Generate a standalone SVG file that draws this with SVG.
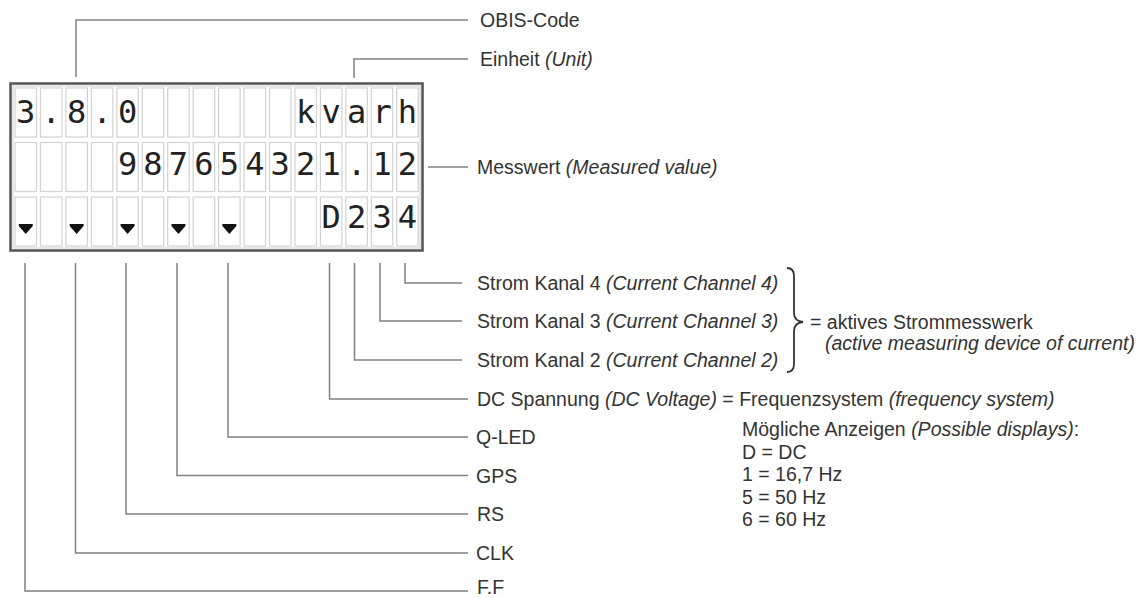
<svg xmlns="http://www.w3.org/2000/svg" width="1140" height="598" viewBox="0 0 1140 598">
<style>
.lbl{font-family:"Liberation Sans",Arial,sans-serif;font-size:19.5px;fill:#333}
.it{font-style:italic}
.lcd{font-family:"DejaVu Sans Mono","Liberation Mono",monospace;font-size:32px;fill:#222;text-anchor:middle}
.cell{fill:#fff;stroke:#d2d2d2;stroke-width:1.2}
.con{fill:none;stroke:#808080;stroke-width:1.5}
.tri{fill:#111}
</style>
<defs>
<rect id="c" class="cell" width="21.5" height="49"/>
<polygon id="t" class="tri" points="-7,224 7,224 7,226 0,234 -7,226"/>
</defs>
<rect width="1140" height="598" fill="#fff"/>

<g id="connectors">
<polyline class="con" points="76,77 76,20 468,20"/>
<polyline class="con" points="354,78 354,59 468,59"/>
<line class="con" x1="428" y1="167" x2="468" y2="167"/>
<polyline class="con" points="405,263 405,283 462,283"/>
<polyline class="con" points="380,263 380,321 462,321"/>
<polyline class="con" points="354.5,263 354.5,360 462,360"/>
<polyline class="con" points="329.5,263 329.5,399 468,399"/>
<polyline class="con" points="228,263 228,437 468,437"/>
<polyline class="con" points="177,263 177,475.5 468,475.5"/>
<polyline class="con" points="126,263 126,514 468,514"/>
<polyline class="con" points="75.5,263 75.5,553 468,553"/>
<polyline class="con" points="25,263 25,591 468,591"/>
</g>

<g id="display">
<rect x="12" y="85" width="412" height="167" fill="#e8e8e8"/>
<rect x="10.5" y="83.5" width="412" height="167" fill="#fff" stroke="#555" stroke-width="2.5"/>
<rect x="13" y="86" width="407" height="162" fill="none" stroke="#cfcfcf" stroke-width="1"/>
<g id="cells">
<use href="#c" x="15" y="88"/><use href="#c" x="40.45" y="88"/><use href="#c" x="65.9" y="88"/><use href="#c" x="91.35" y="88"/><use href="#c" x="116.8" y="88"/><use href="#c" x="142.25" y="88"/><use href="#c" x="167.7" y="88"/><use href="#c" x="193.15" y="88"/><use href="#c" x="218.6" y="88"/><use href="#c" x="244.05" y="88"/><use href="#c" x="269.5" y="88"/><use href="#c" x="294.95" y="88"/><use href="#c" x="320.4" y="88"/><use href="#c" x="345.85" y="88"/><use href="#c" x="371.3" y="88"/><use href="#c" x="396.75" y="88"/>
<use href="#c" x="15" y="142.5"/><use href="#c" x="40.45" y="142.5"/><use href="#c" x="65.9" y="142.5"/><use href="#c" x="91.35" y="142.5"/><use href="#c" x="116.8" y="142.5"/><use href="#c" x="142.25" y="142.5"/><use href="#c" x="167.7" y="142.5"/><use href="#c" x="193.15" y="142.5"/><use href="#c" x="218.6" y="142.5"/><use href="#c" x="244.05" y="142.5"/><use href="#c" x="269.5" y="142.5"/><use href="#c" x="294.95" y="142.5"/><use href="#c" x="320.4" y="142.5"/><use href="#c" x="345.85" y="142.5"/><use href="#c" x="371.3" y="142.5"/><use href="#c" x="396.75" y="142.5"/>
<use href="#c" x="15" y="197"/><use href="#c" x="40.45" y="197"/><use href="#c" x="65.9" y="197"/><use href="#c" x="91.35" y="197"/><use href="#c" x="116.8" y="197"/><use href="#c" x="142.25" y="197"/><use href="#c" x="167.7" y="197"/><use href="#c" x="193.15" y="197"/><use href="#c" x="218.6" y="197"/><use href="#c" x="244.05" y="197"/><use href="#c" x="269.5" y="197"/><use href="#c" x="294.95" y="197"/><use href="#c" x="320.4" y="197"/><use href="#c" x="345.85" y="197"/><use href="#c" x="371.3" y="197"/><use href="#c" x="396.75" y="197"/>
</g>
<g id="row1">
<text class="lcd" x="25.75" y="123">3</text><text class="lcd" x="51.2" y="123">.</text><text class="lcd" x="76.65" y="123">8</text><text class="lcd" x="102.1" y="123">.</text><text class="lcd" x="127.55" y="123">0</text>
<text class="lcd" x="305.7" y="123">k</text><text class="lcd" x="331.15" y="123">v</text><text class="lcd" x="356.6" y="123">a</text><text class="lcd" x="382.05" y="123">r</text><text class="lcd" x="407.5" y="123">h</text>
</g>
<g id="row2">
<text class="lcd" x="127.55" y="175">9</text><text class="lcd" x="153" y="175">8</text><text class="lcd" x="178.45" y="175">7</text><text class="lcd" x="203.9" y="175">6</text><text class="lcd" x="229.35" y="175">5</text><text class="lcd" x="254.8" y="175">4</text><text class="lcd" x="280.25" y="175">3</text><text class="lcd" x="305.7" y="175">2</text><text class="lcd" x="331.15" y="175">1</text><text class="lcd" x="356.6" y="175">.</text><text class="lcd" x="382.05" y="175">1</text><text class="lcd" x="407.5" y="175">2</text>
</g>
<g id="row3">
<use href="#t" x="25.75"/><use href="#t" x="76.65"/><use href="#t" x="127.55"/><use href="#t" x="178.45"/><use href="#t" x="229.35"/>
<text class="lcd" x="331.15" y="228">D</text><text class="lcd" x="356.6" y="228">2</text><text class="lcd" x="382.05" y="228">3</text><text class="lcd" x="407.5" y="228">4</text>
</g>
</g>

<g id="obis"><text class="lbl" x="480" y="27">OBIS-Code</text></g>
<g id="unit"><text class="lbl" x="480" y="66">Einheit <tspan class="it">(Unit)</tspan></text></g>
<g id="value"><text class="lbl" x="477" y="174">Messwert <tspan class="it">(Measured value)</tspan></text></g>
<g id="ch4"><text class="lbl" x="477" y="290">Strom Kanal 4 <tspan class="it">(Current Channel 4)</tspan></text></g>
<g id="ch3"><text class="lbl" x="477" y="328">Strom Kanal 3 <tspan class="it">(Current Channel 3)</tspan></text></g>
<g id="ch2"><text class="lbl" x="477" y="367">Strom Kanal 2 <tspan class="it">(Current Channel 2)</tspan></text></g>
<g id="active">
<path d="M787,268 Q794,268 794,276 L794,313 Q794,321 803,322 Q794,323 794,331 L794,364 Q794,372 787,372" fill="none" stroke="#333" stroke-width="1.8"/>
<text class="lbl" x="810" y="329">= aktives Strommesswerk</text>
<text class="lbl it" x="825" y="350">(active measuring device of current)</text>
</g>
<g id="dc"><text class="lbl" x="477" y="406">DC Spannung <tspan class="it">(DC Voltage)</tspan> = Frequenzsystem <tspan class="it">(frequency system)</tspan></text></g>
<g id="displays">
<text class="lbl" x="742" y="436">Mögliche Anzeigen <tspan class="it">(Possible displays)</tspan>:</text>
<text class="lbl" x="742" y="458.5">D = DC</text>
<text class="lbl" x="742" y="481">1 = 16,7 Hz</text>
<text class="lbl" x="742" y="503.5">5 = 50 Hz</text>
<text class="lbl" x="742" y="526">6 = 60 Hz</text>
</g>
<g id="qled"><text class="lbl" x="476" y="444">Q-LED</text></g>
<g id="gps"><text class="lbl" x="476" y="482.5">GPS</text></g>
<g id="rs"><text class="lbl" x="477" y="521">RS</text></g>
<g id="clk"><text class="lbl" x="476" y="560">CLK</text></g>
<g id="ff"><text class="lbl" x="477" y="594">F.F</text></g>
</svg>
